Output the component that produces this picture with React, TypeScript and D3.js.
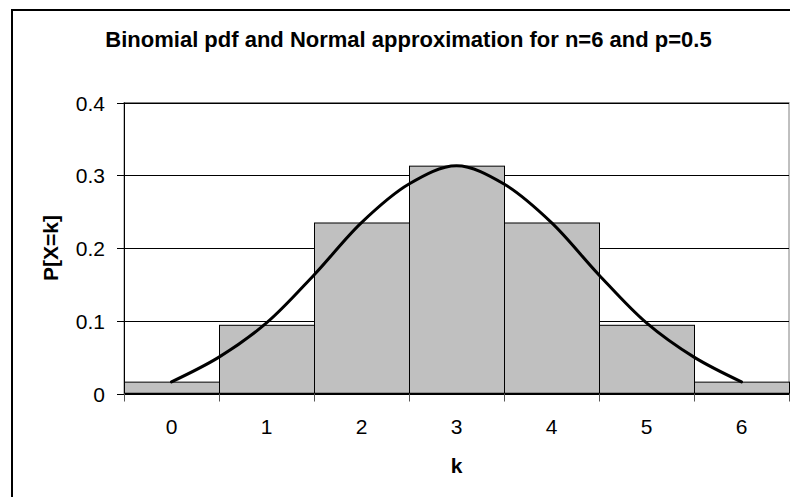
import React from "react";
import * as d3 from "d3";

const categories = ["0", "1", "2", "3", "4", "5", "6"];
const binomialValues = [0.015625, 0.09375, 0.234375, 0.3125, 0.234375, 0.09375, 0.015625];
const normalK = [0, 0.5, 1, 1.5, 2, 2.5, 3, 3.5, 4, 4.5, 5, 5.5, 6];
const normalValues = [0.016, 0.05, 0.097, 0.163, 0.235, 0.288, 0.313, 0.288, 0.235, 0.163, 0.097, 0.05, 0.016];
const yTicks = [0, 0.1, 0.2, 0.3, 0.4];
const yTickLabels = ["0", "0.1", "0.2", "0.3", "0.4"];
const title = "Binomial pdf and Normal approximation for n=6 and p=0.5";
const xTitle = "k";
const yTitle = "P[X=k]";

export default function App() {
  const W = 790;
  const H = 497;
  const left = 124;
  const right = 789;
  const top = 102.5;
  const bottom = 393.5;
  const font = "'Liberation Sans', Arial, sans-serif";

  const x = d3.scaleBand<string>().domain(categories).range([left, right]).padding(0);
  const y = d3.scaleLinear().domain([0, 0.4]).range([bottom, top]);
  const bw = x.bandwidth();
  const xc = d3
    .scaleLinear()
    .domain([0, categories.length - 1])
    .range([(x(categories[0]) as number) + bw / 2, (x(categories[categories.length - 1]) as number) + bw / 2]);

  const line = d3
    .line<number>()
    .x((_, i) => xc(normalK[i]))
    .y((d) => y(d))
    .curve(d3.curveCatmullRom.alpha(0.5));

  const boundaries = categories.map((c) => x(c) as number).concat([right]);

  return (
    <svg
      width={W}
      height={H}
      style={{ position: "absolute", left: 0, top: 0, background: "#fff" }}
      fontFamily={font}
    >
      <rect x={0} y={0} width={W} height={H} fill="#fff" />
      {/* outer chart border */}
      <rect x={12} y={10} width={820} height={520} fill="none" stroke="#000" strokeWidth={2} />

      {/* title */}
      <text x={408.5} y={47} textAnchor="middle" fontSize={22} fontWeight="bold" fill="#000">
        {title}
      </text>

      {/* plot area border */}
      <rect x={left} y={top} width={right - left} height={bottom - top} fill="#fff" stroke="#808080" strokeWidth={1} />

      {/* gridlines */}
      {yTicks.map((t) => (
        <line key={"g" + t} x1={left} x2={right} y1={Math.round(y(t)) + 0.5} y2={Math.round(y(t)) + 0.5} stroke="#000" strokeWidth={1} />
      ))}

      {/* bars */}
      {categories.map((c, i) => (
        <rect
          key={"b" + c}
          x={(x(c) as number) + 0.5}
          y={y(binomialValues[i])}
          width={bw}
          height={bottom - y(binomialValues[i])}
          fill="#C0C0C0"
          stroke="#000"
          strokeWidth={1}
        />
      ))}

      {/* normal curve */}
      <path d={line(normalValues) || ""} fill="none" stroke="#000" strokeWidth={3} strokeLinejoin="round" strokeLinecap="round" />

      {/* axes */}
      <line x1={left + 0.5} x2={left + 0.5} y1={top} y2={bottom} stroke="#000" strokeWidth={1} />
      <line x1={left} x2={right} y1={bottom} y2={bottom} stroke="#000" strokeWidth={1.5} />

      {/* y ticks */}
      {yTicks.map((t, i) => (
        <g key={"yt" + t}>
          <line x1={117} x2={left} y1={Math.round(y(t)) + 0.5} y2={Math.round(y(t)) + 0.5} stroke="#000" strokeWidth={1} />
          <text x={105} y={y(t) + 8} textAnchor="end" fontSize={21} fill="#000">
            {yTickLabels[i]}
          </text>
        </g>
      ))}

      {/* x ticks */}
      {boundaries.map((b, i) => (
        <line key={"xt" + i} x1={b + 0.5} x2={b + 0.5} y1={bottom} y2={bottom + 8} stroke="#555" strokeWidth={1} />
      ))}
      {categories.map((c) => (
        <text key={"xl" + c} x={(x(c) as number) + bw / 2} y={434} textAnchor="middle" fontSize={21} fill="#000">
          {c}
        </text>
      ))}

      {/* axis titles */}
      <text x={(left + right) / 2} y={473} textAnchor="middle" fontSize={21} fontWeight="bold" fill="#000">
        {xTitle}
      </text>
      <text
        transform={`translate(57.5, ${(top + bottom) / 2}) rotate(-90)`}
        textAnchor="middle"
        fontSize={21}
        fontWeight="bold"
        fill="#000"
      >
        {yTitle}
      </text>
    </svg>
  );
}
